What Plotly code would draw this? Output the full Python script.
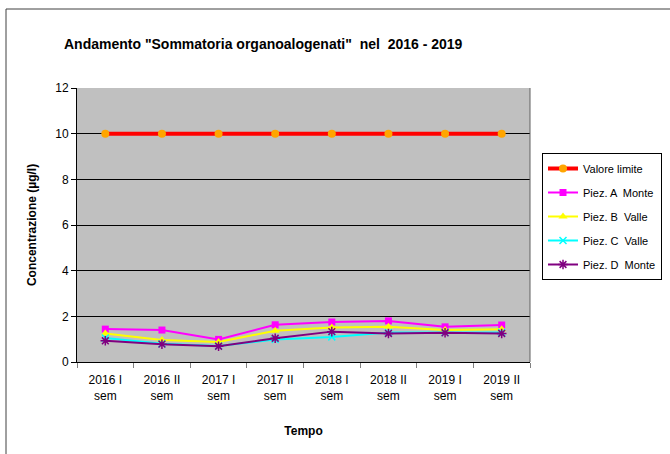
import plotly.graph_objects as go

categories = ["2016 I<br>sem", "2016 II<br>sem", "2017 I<br>sem", "2017 II<br>sem",
              "2018 I<br>sem", "2018 II<br>sem", "2019 I<br>sem", "2019 II<br>sem"]
valore_limite = [10, 10, 10, 10, 10, 10, 10, 10]
piez_a_monte = [1.44, 1.40, 0.99, 1.63, 1.75, 1.80, 1.54, 1.62]
piez_b_valle = [1.25, 0.96, 0.88, 1.37, 1.51, 1.54, 1.40, 1.43]
piez_c_valle = [1.05, 0.80, 0.70, 0.99, 1.10, 1.29, 1.29, 1.29]
piez_d_monte = [0.93, 0.78, 0.69, 1.04, 1.33, 1.25, 1.28, 1.25]
y_ticks = [0, 2, 4, 6, 8, 10, 12]

FONT = "Liberation Sans"
fig = go.Figure()

series = [
    ("Valore limite", valore_limite, dict(color="#FF0000", width=4), dict(symbol="circle", color="#FFA500", size=8)),
    ("Piez. A  Monte", piez_a_monte, dict(color="#FF00FF", width=2), dict(symbol="square", color="#FF00FF", size=7)),
    ("Piez. B  Valle", piez_b_valle, dict(color="#FFFF00", width=2), dict(symbol="triangle-up", color="#FFFF00", size=8)),
    ("Piez. C  Valle", piez_c_valle, dict(color="#00FFFF", width=2), dict(symbol="x-thin-open", color="#00FFFF", size=7, line=dict(width=1.5, color="#00FFFF"))),
    ("Piez. D  Monte", piez_d_monte, dict(color="#800080", width=2), dict(symbol="asterisk-open", color="#800080", size=8, line=dict(width=1.5, color="#800080"))),
]
for i, (name, vals, line, marker) in enumerate(series):
    fig.add_trace(go.Scatter(x=categories, y=vals, name=name, mode="lines+markers",
                             line=line, marker=marker, legendgroup=str(i)))

W, H = 670, 454
L, R, T, B = 77, 140, 88, 92
pw, ph = W - L - R, H - T - B

def px_x(p):
    return (p - L) / pw

def px_y(p):
    return (H - B - p) / ph

fig.update_layout(
    width=W, height=H,
    margin=dict(l=L, r=R, t=T, b=B, autoexpand=False),
    paper_bgcolor="white",
    plot_bgcolor="#C0C0C0",
    font=dict(family=FONT, size=12, color="black"),
    showlegend=True,
    legend=dict(x=px_x(542), y=px_y(153), xanchor="left", yanchor="top",
                bordercolor="black", borderwidth=1, bgcolor="white",
                font=dict(size=11), tracegroupgap=5, traceorder="grouped",
                itemwidth=30),
    xaxis=dict(range=[-0.5, 7.5], showgrid=False, showline=True, linecolor="black",
               linewidth=1, ticks="outside", tickson="boundaries", ticklen=5,
               tickcolor="gray", tickfont=dict(size=12), zeroline=False,
               ticklabelstandoff=7,
               title=dict(text="<b>Tempo</b>", font=dict(size=12), standoff=24)),
    yaxis=dict(range=[0, 12], tickvals=y_ticks, showgrid=True, gridcolor="black",
               gridwidth=1, showline=True, linecolor="black", linewidth=1,
               ticks="outside", ticklen=5, tickcolor="black", zeroline=False,
               tickfont=dict(size=12),
               title=dict(text="<b>Concentrazione (µg/l)</b>", font=dict(size=12), standoff=16)),
    annotations=[
        dict(text='<b>Andamento "Sommatoria organoalogenati"  nel  2016 - 2019</b>',
             xref="paper", yref="paper", x=px_x(62), y=px_y(44),
             xanchor="left", yanchor="middle", showarrow=False,
             font=dict(size=14, family=FONT)),
    ],
    shapes=[
        dict(type="line", xref="paper", yref="paper", x0=px_x(6), x1=px_x(700),
             y0=px_y(9), y1=px_y(9), line=dict(color="#404040", width=1)),
        dict(type="line", xref="paper", yref="paper", x0=px_x(6), x1=px_x(6),
             y0=px_y(9), y1=px_y(500), line=dict(color="#404040", width=1)),
        dict(type="line", xref="paper", yref="paper", x0=1, x1=1,
             y0=0, y1=1, line=dict(color="#606060", width=1)),
    ],
)

fig.write_html("out.html", config={"displayModeBar": False},
               post_script="document.body.style.margin='0';document.body.style.overflow='hidden';")
